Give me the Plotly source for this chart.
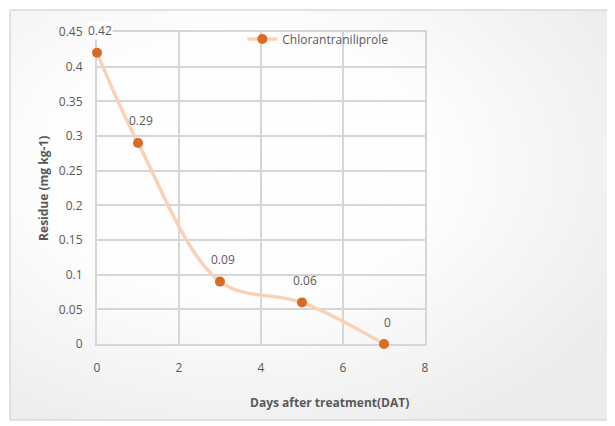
import base64
import plotly.graph_objects as go

days = [0, 1, 3, 5, 7]
residue = [0.42, 0.29, 0.09, 0.06, 0.0]
labels = ["0.42", "0.29", "0.09", "0.06", "0"]
series_name = "Chlorantraniliprole"
y_ticks = [0, 0.05, 0.1, 0.15, 0.2, 0.25, 0.3, 0.35, 0.4, 0.45]
y_ticktext = ["0", "0.05", "0.1", "0.15", "0.2", "0.25", "0.3", "0.35", "0.4", "0.45"]
x_ticks = [0, 2, 4, 6, 8]

FONT = "Open Sans"
GRAY = "#595959"
GRID = "#d6d6d6"

svg = ('<svg xmlns="http://www.w3.org/2000/svg" width="604" height="410" viewBox="0 0 604 410">'
       '<defs><radialGradient id="g" cx="0.38" cy="0.38" r="0.75">'
       '<stop offset="0" stop-color="#ffffff"/><stop offset="0.45" stop-color="#fdfdfd"/>'
       '<stop offset="1" stop-color="#ebebeb"/></radialGradient></defs>'
       '<rect width="604" height="410" fill="url(#g)"/></svg>')
src = "data:image/svg+xml;base64," + base64.b64encode(svg.encode()).decode()

fig = go.Figure()
fig.add_trace(go.Scatter(
    x=days, y=residue, mode="lines+markers", name=series_name,
    line=dict(color="#f9d2b6", width=3.5, shape="spline", smoothing=1.0),
    marker=dict(color="#d86b25", size=10),
    cliponaxis=False,
))

ymax = max(residue)
for d, r, t in zip(days, residue, labels):
    fig.add_annotation(x=d, y=r, text=t, showarrow=False, yshift=22, xshift=3,
                       bgcolor="#ffffff" if r == ymax else "rgba(0,0,0,0)", borderpad=0,
                       font=dict(family=FONT, size=12, color=GRAY))

x0, x1, y0, y1 = -0.265, 1.576, -0.2436, 1.0705
fig.add_layout_image(source=src, xref="paper", yref="paper", x=x0, y=y1,
                     sizex=x1 - x0, sizey=y1 - y0, sizing="stretch",
                     xanchor="left", yanchor="top", layer="below")
fig.add_shape(type="rect", xref="paper", yref="paper", x0=x0, x1=x1, y0=y0, y1=y1,
              line=dict(color="#d9d9d9", width=1.5), fillcolor="rgba(0,0,0,0)", layer="below")

fig.add_annotation(xref="paper", yref="paper", x=-0.165, y=0.5, xanchor="center", yanchor="middle",
                   text="<b>Residue (mg kg-1)</b>", textangle=-90, showarrow=False,
                   font=dict(family=FONT, size=12, color=GRAY))
fig.add_annotation(xref="paper", yref="paper", x=0.71, y=-0.186, xanchor="center", yanchor="middle",
                   text="<b>Days after treatment(DAT)</b>", showarrow=False,
                   font=dict(family=FONT, size=12, color=GRAY))

fig.update_layout(
    width=615, height=426,
    margin=dict(l=89, r=198, t=24, b=90),
    paper_bgcolor="white", plot_bgcolor="rgba(0,0,0,0)",
    font=dict(family=FONT, size=12, color=GRAY),
    showlegend=True,
    legend=dict(x=0.443, y=0.9776, xanchor="left", yanchor="middle", bgcolor="rgba(0,0,0,0)",
                font=dict(family=FONT, size=12, color=GRAY)),
)
fig.update_xaxes(range=[0, 8], tickvals=x_ticks, showgrid=True, gridcolor=GRID, gridwidth=2,
                 zeroline=False, showline=True, linecolor=GRID, linewidth=2, mirror=True,
                 ticklabelstandoff=12, layer="below traces",
                 tickfont=dict(family=FONT, size=12, color=GRAY))
fig.update_yaxes(range=[0, 0.45], tickvals=y_ticks, ticktext=y_ticktext, showgrid=True,
                 gridcolor=GRID, gridwidth=2, zeroline=False, showline=True, linecolor=GRID,
                 linewidth=2, mirror=True, layer="below traces",
                 ticklabelstandoff=10, tickfont=dict(family=FONT, size=12, color=GRAY))

fig.write_html("out.html")
